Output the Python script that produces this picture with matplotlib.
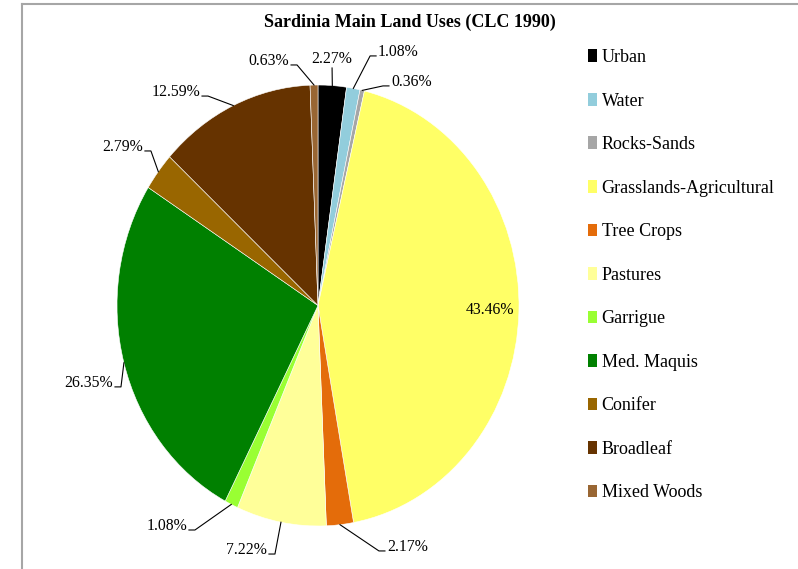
import matplotlib.pyplot as plt
from matplotlib.patches import Patch
from matplotlib.lines import Line2D
import numpy as np

plt.rcParams['font.family'] = ['Liberation Serif', 'DejaVu Serif']

# CORINE Land Cover 1990 shares for Sardinia (percent of area)
categories = ['Urban', 'Water', 'Rocks-Sands', 'Grasslands-Agricultural', 'Tree Crops',
              'Pastures', 'Garrigue', 'Med. Maquis', 'Conifer', 'Broadleaf', 'Mixed Woods']
shares = [2.27, 1.08, 0.36, 43.46, 2.17, 7.22, 1.08, 26.35, 2.79, 12.59, 0.63]
colors = ['#000000', '#92cddc', '#a6a6a6', '#ffff66', '#e46c0a', '#ffff99',
          '#99ff33', '#008000', '#996600', '#663300', '#996633']

# where each percentage label sits (pie-radius units) and which side it is anchored on
label_pos = [(0.070, 1.118), (0.299, 1.150), (0.363, 1.014), (0.856, -0.020), (0.343, -1.095),
             (-0.254, -1.109), (-0.652, -1.000), (-1.020, -0.351), (-0.871, 0.719),
             (-0.587, 0.968), (-0.144, 1.109)]
label_ha = ['center', 'left', 'left', 'center', 'left', 'right', 'right', 'right', 'right',
            'right', 'right']

W, H = 798, 569
fig = plt.figure(figsize=(W / 100, H / 100), dpi=100)

# pie axes (drawn slightly taller than wide, like the source sheet)
px_l, px_b, px_w, px_h = 117, 43, 402, 441
ax = fig.add_axes([px_l / W, px_b / H, px_w / W, px_h / H])
wedges, _ = ax.pie(shares, colors=colors, startangle=90, counterclock=False,
                   wedgeprops=dict(edgecolor='white', linewidth=0.4))
ax.set_aspect('auto')
ax.set_xlim(-1, 1)
ax.set_ylim(-1, 1)

# one screen pixel in data units
dx = 2 / px_w
dy = 2 / px_h

for w, v, (tx, ty), ha in zip(wedges, shares, label_pos, label_ha):
    mid = np.deg2rad((w.theta1 + w.theta2) / 2)
    ex, ey = np.cos(mid), np.sin(mid)
    ax.text(tx, ty, f'{v:.2f}%', ha=ha, va='center', fontsize=11.3, clip_on=False)
    if v > 40:
        continue  # big slice keeps its label inside
    if ha == 'center':
        xs = [tx, ex]
        ys = [ty - 9 * dy, ey]
    elif ha == 'right':
        xs = [tx + 2 * dx, tx + 8 * dx, ex]
        ys = [ty - 4 * dy, ty - 4 * dy, ey]
    else:
        xs = [tx - 2 * dx, tx - 8 * dx, ex]
        ys = [ty - 4 * dy, ty - 4 * dy, ey]
    ax.plot(xs, ys, color='black', lw=0.8, clip_on=False)

fig.text(410 / W, 1 - 22 / H, 'Sardinia Main Land Uses (CLC 1990)', ha='center', va='center',
         fontsize=13, fontweight='bold')

handles = [Patch(facecolor=c, label=l) for c, l in zip(colors, categories)]
fig.legend(handles=handles, loc='upper left', bbox_to_anchor=(588 / W, 1 - 49 / H),
           frameon=False, handlelength=0.5, handleheight=0.7, handletextpad=0.25,
           labelspacing=1.47, borderpad=0, borderaxespad=0, fontsize=13)

# chart area border (left and top edges)
fig.add_artist(Line2D([22 / W, 22 / W], [0, 1 - 4 / H], color='#a6a6a6', lw=1.5,
                      transform=fig.transFigure))
fig.add_artist(Line2D([22 / W, 1], [1 - 4 / H, 1 - 4 / H], color='#a6a6a6', lw=1.5,
                      transform=fig.transFigure))

fig.savefig('out.png', dpi=100)
